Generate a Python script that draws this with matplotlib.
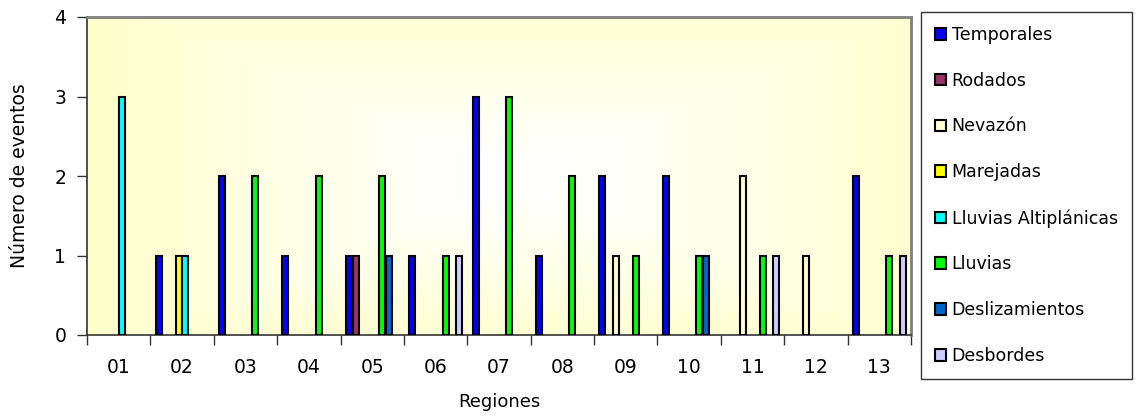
import numpy as np
import matplotlib
matplotlib.use('Agg')
import matplotlib.pyplot as plt
from matplotlib.colors import LinearSegmentedColormap

regiones = ['01', '02', '03', '04', '05', '06', '07', '08', '09', '10', '11', '12', '13']

series = ['Temporales', 'Rodados', 'Nevazón', 'Marejadas',
          'Lluvias Altiplánicas', 'Lluvias', 'Deslizamientos', 'Desbordes']
colores = ['#0000FF', '#993366', '#FFFFCC', '#FFFF00',
           '#00FFFF', '#00FF00', '#0066CC', '#CCCCFF']

#               01 02 03 04 05 06 07 08 09 10 11 12 13
temporales   = [0, 1, 2, 1, 1, 1, 3, 1, 2, 2, 0, 0, 2]
rodados      = [0, 0, 0, 0, 1, 0, 0, 0, 0, 0, 0, 0, 0]
nevazon      = [0, 0, 0, 0, 0, 0, 0, 0, 1, 0, 2, 1, 0]
marejadas    = [0, 1, 0, 0, 0, 0, 0, 0, 0, 0, 0, 0, 0]
lluvias_alt  = [3, 1, 0, 0, 0, 0, 0, 0, 0, 0, 0, 0, 0]
lluvias      = [0, 0, 2, 2, 2, 1, 3, 2, 1, 1, 1, 0, 1]
deslizam     = [0, 0, 0, 0, 1, 0, 0, 0, 0, 1, 0, 0, 0]
desbordes    = [0, 0, 0, 0, 0, 1, 0, 0, 0, 0, 1, 0, 1]

valores = [temporales, rodados, nevazon, marejadas,
           lluvias_alt, lluvias, deslizam, desbordes]

fig = plt.figure(figsize=(11.4, 4.18), dpi=100)
ax = fig.add_axes([87/1140, 1-335/418, (911-87)/1140, (335-17)/418])

# fondo: blanco al centro, amarillo palido en los bordes
gx, gy = np.meshgrid(np.linspace(-1, 1, 300), np.linspace(-1, 1, 120))
t = np.maximum(np.abs(gx - 0.05), np.abs(gy) * 0.9)
t = np.clip(t, 0, 1) ** 1.3
cmap = LinearSegmentedColormap.from_list('fondo', ['#FFFFFF', '#FFFFCC'])
ax.imshow(t, cmap=cmap, extent=[-0.5, 12.5, 0, 4], aspect='auto',
          zorder=0, interpolation='bilinear', vmin=0, vmax=1)

x = np.arange(len(regiones))
w = 1 / 9.5
for i, (nombre, vals) in enumerate(zip(series, valores)):
    vals = np.array(vals)
    m = vals > 0  # sin barras de valor cero
    ax.bar(x[m] + (i - 3.5) * w, vals[m], w * 0.9, color=colores[i],
           edgecolor='black', linewidth=1.5, label=nombre, zorder=3)

ax.set_xlim(-0.5, 12.5)
ax.set_ylim(0, 4)
ax.set_yticks(range(5))
ax.set_xticks(x)
ax.set_xticklabels(regiones)
ax.set_xticks(np.arange(-0.5, 13, 1), minor=True)
ax.tick_params(axis='x', which='major', length=0, pad=16.5, labelsize=13.5)
ax.tick_params(axis='x', which='minor', length=7, width=1, color='#333333')
ax.tick_params(axis='y', length=7, width=1, color='#333333', labelsize=13.5, pad=8)

for s in ['top', 'right']:
    ax.spines[s].set_color('#808080')
    ax.spines[s].set_linewidth(2)
for s in ['left', 'bottom']:
    ax.spines[s].set_color('#333333')
    ax.spines[s].set_linewidth(1.2)

ax.set_xlabel('Regiones', fontsize=13)
ax.set_ylabel('Número de eventos', fontsize=13.5)
ax.xaxis.set_label_coords(0.5, -0.182)
ax.yaxis.set_label_coords(-0.070, 0.5)

leg = fig.legend(loc='upper left', bbox_to_anchor=(921/1140, 1-12/418),
                 fontsize=12.5, frameon=True, fancybox=False,
                 edgecolor='black', labelspacing=1.6,
                 handlelength=0.66, handleheight=0.66, handletextpad=0.3,
                 borderpad=0.8, borderaxespad=0)
leg.get_frame().set_linewidth(1)

fig.savefig('out.png', dpi=100)
